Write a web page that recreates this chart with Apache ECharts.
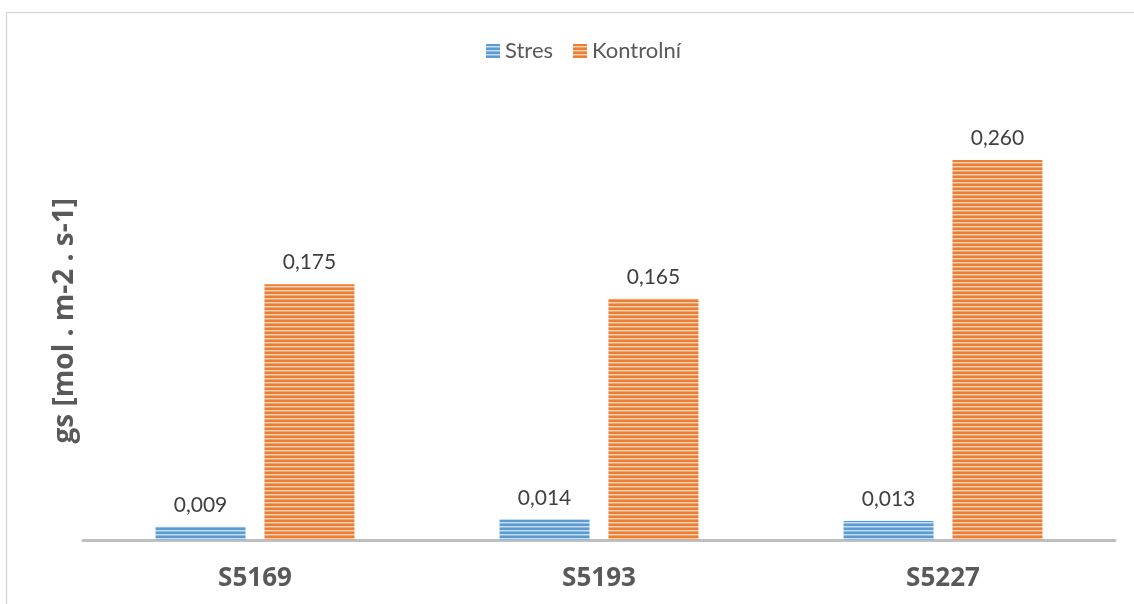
<!DOCTYPE html>
<html>
<head>
<meta charset="utf-8">
<script src="https://cdn.jsdelivr.net/npm/echarts@6/dist/echarts.min.js"></script>
<style>
  html, body { margin: 0; padding: 0; background: #ffffff; }
  #chart { width: 1134px; height: 604px; }
</style>
</head>
<body>
<div id="chart"></div>
<script>
// Stomatal conductance per line, stress vs. control
const categories = ['S5169', 'S5193', 'S5227'];
const stresValues = [0.009, 0.014, 0.013];
const kontrolniValues = [0.175, 0.165, 0.260];
const seriesNames = ['Stres', 'Kontrolní'];
const yAxisTitle = 'gs [mol . m-2 . s-1]';

// Horizontal striped fill built on a tiny canvas tile
function stripes(dark, mid, light) {
  const c = document.createElement('canvas');
  c.width = 4; c.height = 4;
  const ctx = c.getContext('2d');
  const rows = [dark, dark, light, mid];
  rows.forEach((col, i) => { ctx.fillStyle = col; ctx.fillRect(0, i, 4, 1); });
  return { image: c, repeat: 'repeat' };
}
const bluePattern = stripes('#5b9bd5', '#8dbbe3', '#c9def2');
const orangePattern = stripes('#ed7d31', '#f3a26c', '#fbd7bf');

const fmt = p => p.value.toFixed(3).replace('.', ',');
const labelStyle = {
  show: true, position: 'top', distance: 11,
  formatter: fmt, color: '#404040',
  fontFamily: 'Lato', fontSize: 21
};

const chart = echarts.init(document.getElementById('chart'), null, { renderer: 'canvas' });
chart.setOption({
  animation: false,
  backgroundColor: '#ffffff',
  graphic: [{
    type: 'rect',
    shape: { x: 6.5, y: 12.5, width: 1300, height: 800 },
    style: { fill: 'none', stroke: '#d9d9d9', lineWidth: 1.5 },
    silent: true
  }],
  legend: {
    top: 35, left: 481,
    itemWidth: 14, itemHeight: 14, itemGap: 20,
    textStyle: { color: '#595959', fontFamily: 'Lato', fontSize: 22 },
    data: seriesNames.map((n, i) => ({ name: n, icon: 'rect',
      itemStyle: { color: i === 0 ? bluePattern : orangePattern } }))
  },
  grid: { left: 83, right: 19, top: 101.5, bottom: 64, containLabel: false },
  xAxis: {
    type: 'category',
    data: categories,
    axisLine: { lineStyle: { color: '#bfbfbf', width: 3 } },
    axisTick: { show: false },
    axisLabel: { color: '#595959', fontFamily: 'Open Sans', fontWeight: 'bold', fontSize: 26, margin: 26 }
  },
  yAxis: {
    type: 'value', min: 0, max: 0.3,
    name: yAxisTitle,
    nameLocation: 'middle', nameGap: 4, nameRotate: 90,
    nameTextStyle: { color: '#595959', fontFamily: 'Open Sans', fontWeight: 'bold', fontSize: 28 },
    axisLine: { show: false }, axisTick: { show: false },
    axisLabel: { show: false }, splitLine: { show: false }
  },
  series: [
    { name: seriesNames[0], type: 'bar', data: stresValues, barWidth: 90, barGap: '21%',
      itemStyle: { color: bluePattern }, label: labelStyle },
    { name: seriesNames[1], type: 'bar', data: kontrolniValues, barWidth: 90,
      itemStyle: { color: orangePattern }, label: labelStyle }
  ]
});
</script>
</body>
</html>
